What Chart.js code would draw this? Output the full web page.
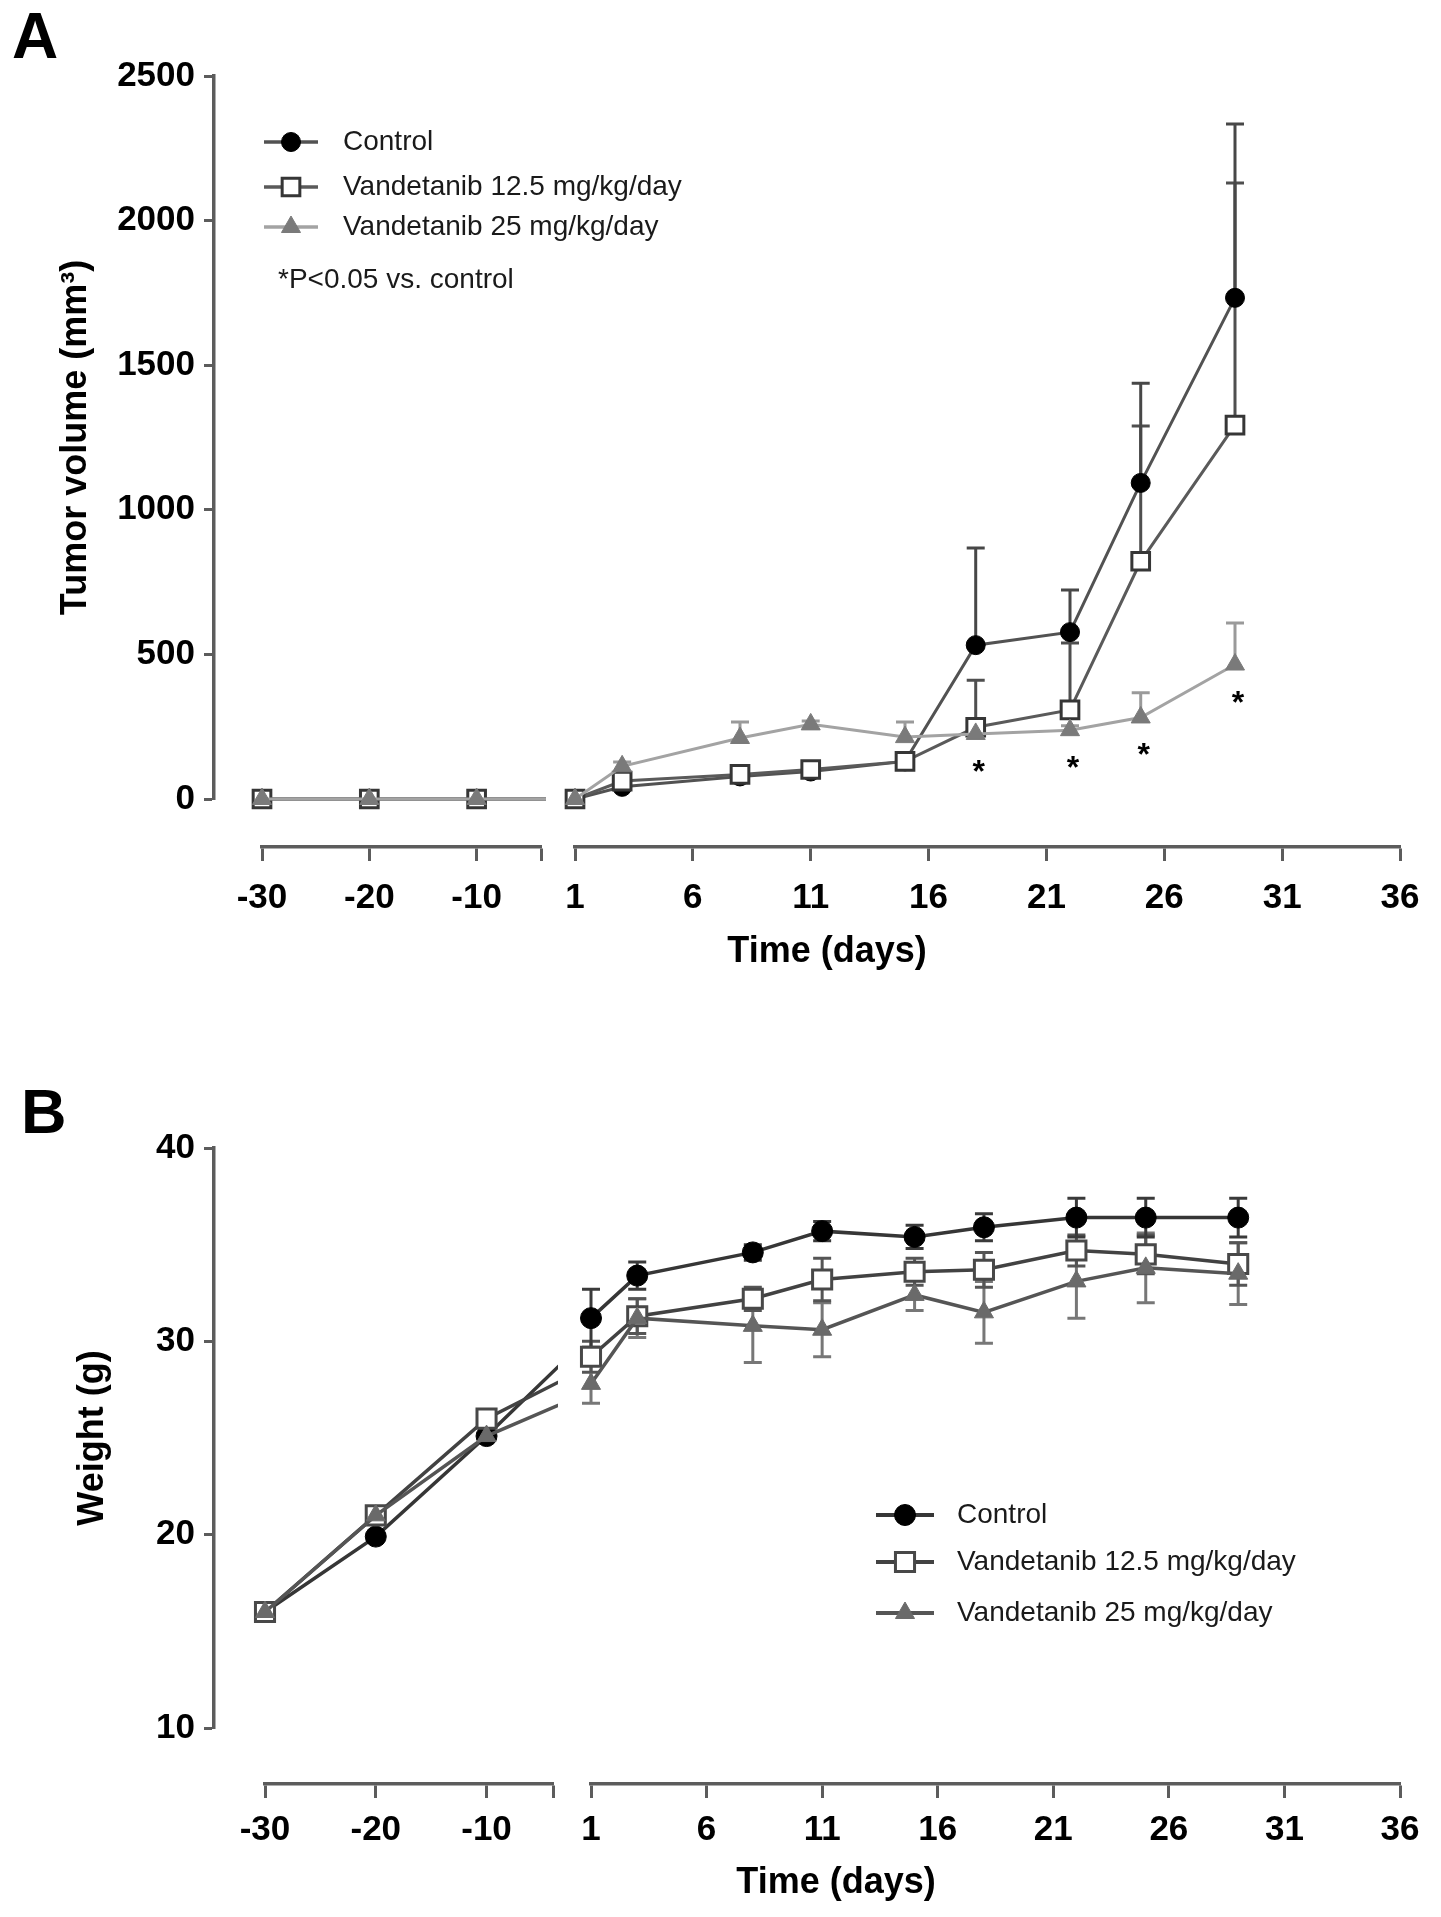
<!DOCTYPE html>
<html>
<head>
<meta charset="utf-8">
<script src="https://cdn.jsdelivr.net/npm/chart.js@4.4.1/dist/chart.umd.min.js"></script>
<style>
html, body { margin: 0; padding: 0; background: #ffffff; overflow: hidden; }
#wrap { position: relative; width: 1441px; height: 1917px; background: #fff; }
.panel { position: absolute; left: 0; width: 1441px; }
#pa { top: 0; height: 990px; }
#pb { top: 990px; height: 927px; }
</style>
</head>
<body>
<div id="wrap">
  <div class="panel" id="pa"><canvas id="chartA"></canvas></div>
  <div class="panel" id="pb"><canvas id="chartB"></canvas></div>
</div>
<script>
// ---------------- data ----------------
const preDays = [-30, -20, -10];
const postDays = [1, 3, 8, 11, 15, 18, 22, 25, 29];
const days = preDays.concat(postDays);
const seriesNames = ['Control', 'Vandetanib 12.5 mg/kg/day', 'Vandetanib 25 mg/kg/day'];

const leftTickLabels = [-30, -20, -10];
const rightTickLabels = [1, 6, 11, 16, 21, 26, 31, 36];
const leftAxisRange = [-30, -4];
const rightAxisRange = [1, 36];
const xTitle = 'Time (days)';

// Panel A: tumor volume (mm3), mean and upper error
const volTicks = [0, 500, 1000, 1500, 2000, 2500];
const volTitle = 'Tumor volume (mm\u00B3)';
const volControl    = [0, 0, 0, 0, 42, 78, 95, 130, 532, 577, 1093, 1733];
const volLow        = [0, 0, 0, 0, 62, 85, 102, 130, 248, 308, 822, 1293];
const volHigh       = [0, 0, 0, 0, 113, 211, 258, 214, 225, 238, 282, 465];
const volControlErr = [0, 0, 0, 0, 8, 12, 15, 20, 336, 146, 345, 601];
const volLowErr     = [0, 0, 0, 0, 10, 18, 15, 22, 163, 231, 468, 837];
const volHighErr    = [0, 0, 0, 0, 15, 55, 12, 52, 15, 15, 85, 144];
const sigDays = [18, 22, 25, 29];
const sigNote = '*P<0.05 vs. control';

// Panel B: body weight (g), mean and +/- error
const wtTicks = [10, 20, 30, 40];
const wtTitle = 'Weight (g)';
const wtControl    = [16.0, 19.9, 25.1, 31.2, 33.4, 34.6, 35.7, 35.4, 35.9, 36.4, 36.4, 36.4];
const wtLow        = [16.0, 21.0, 26.0, 29.2, 31.3, 32.2, 33.2, 33.6, 33.7, 34.7, 34.5, 34.0];
const wtHigh       = [16.0, 21.0, 25.1, 27.8, 31.2, 30.8, 30.6, 32.4, 31.5, 33.1, 33.8, 33.5];
const wtControlErr = [0, 0, 0, 1.5, 0.7, 0.4, 0.5, 0.6, 0.7, 1.0, 1.0, 1.0];
const wtLowErr     = [0, 0, 0, 0.8, 0.9, 0.6, 1.1, 0.7, 0.9, 0.8, 1.0, 1.1];
const wtHighErr    = [0, 0, 0, 1.0, 1.0, 1.9, 1.4, 0.8, 1.6, 1.9, 1.8, 1.6];

// ---------------- styling ----------------
const FONT = '"Liberation Sans", Arial, Helvetica, sans-serif';
const AXIS = '#5c5c5c';

function drawMarker(ctx, st, x, y) {
  if (window.Chart && Chart.helpers && Chart.helpers.drawPoint) {
    Chart.helpers.drawPoint(ctx, {pointStyle: st.pointStyle, radius: st.radius, borderWidth: st.bw, rotation: 0}, x, y);
    return;
  }
  ctx.beginPath();
  if (st.pointStyle === 'circle') ctx.arc(x, y, st.radius, 0, Math.PI * 2);
  else if (st.pointStyle === 'rect') { const s = st.radius * Math.SQRT1_2; ctx.rect(x - s, y - s, 2 * s, 2 * s); }
  else { const r = st.radius; ctx.moveTo(x, y - r); ctx.lineTo(x + r * 0.866, y + r / 2); ctx.lineTo(x - r * 0.866, y + r / 2); ctx.closePath(); }
  ctx.fill(); if (st.bw > 0) ctx.stroke();
}

function makeDeco(P) {
  return {
    id: 'deco' + P.id,
    beforeDatasetDraw(chart, args) {
      if (args.meta.xAxisID !== 'xL') return;
      const xs = chart.scales.xL, ca = chart.chartArea, ctx = chart.ctx;
      ctx.save();
      ctx.beginPath();
      ctx.rect(0, ca.top - 60, xs.right + 5, ca.bottom - ca.top + 120);
      ctx.clip();
    },
    afterDatasetDraw(chart, args) {
      if (args.meta.xAxisID === 'xL') chart.ctx.restore();
    },
    beforeDatasetsDraw(chart) {
      const ctx = chart.ctx, ys = chart.scales.y;
      chart.data.datasets.forEach((ds, di) => {
        const meta = chart.getDatasetMeta(di);
        const xs = chart.scales[meta.xAxisID];
        ctx.save();
        ctx.strokeStyle = ds.errorColor;
        ctx.lineWidth = P.errWidth;
        ds.data.forEach((p, i) => {
          const e = ds.errors[i];
          if (!e || p.x < xs.min || p.x > xs.max) return;
          const el = meta.data[i];
          if (!el) return;
          const x = el.x;
          const yt = ys.getPixelForValue(p.y + e);
          const yb = P.errorMode === 'both' ? ys.getPixelForValue(p.y - e) : el.y;
          ctx.beginPath();
          ctx.moveTo(x, yb); ctx.lineTo(x, yt);
          ctx.moveTo(x - P.cap, yt); ctx.lineTo(x + P.cap, yt);
          if (P.errorMode === 'both') { ctx.moveTo(x - P.cap, yb); ctx.lineTo(x + P.cap, yb); }
          ctx.stroke();
        });
        ctx.restore();
      });
    },
    afterDatasetsDraw(chart) {
      if (!P.sig) return;
      const ctx = chart.ctx, ys = chart.scales.y, xs = chart.scales.xR;
      ctx.save();
      ctx.font = 'bold ' + P.sig.size + 'px ' + FONT;
      ctx.fillStyle = '#000';
      ctx.textAlign = 'center';
      ctx.textBaseline = 'alphabetic';
      P.sig.days.forEach(d => {
        const i = days.indexOf(d);
        ctx.fillText('*', xs.getPixelForValue(d) + P.sig.dx, ys.getPixelForValue(P.sig.ref[i]) + P.sig.dy);
      });
      ctx.restore();
    },
    afterDraw(chart) {
      const ctx = chart.ctx, ca = chart.chartArea, L = P.legend;
      ctx.save();
      seriesNames.forEach((name, i) => {
        const st = P.styles[i];
        const y = ca.top + L.rows[i];
        ctx.strokeStyle = st.line;
        ctx.lineWidth = P.lineWidth + 0.5;
        ctx.beginPath();
        ctx.moveTo(ca.left + L.x0, y); ctx.lineTo(ca.left + L.x1, y);
        ctx.stroke();
        ctx.fillStyle = st.fill; ctx.strokeStyle = st.border; ctx.lineWidth = st.bw;
        drawMarker(ctx, st, ca.left + L.mx, y);
        ctx.fillStyle = '#1a1a1a';
        ctx.font = L.size + 'px ' + FONT;
        ctx.textAlign = 'left';
        ctx.textBaseline = 'middle';
        ctx.fillText(name, ca.left + L.tx, y);
      });
      if (P.note) {
        ctx.fillStyle = '#1a1a1a';
        ctx.font = L.size + 'px ' + FONT;
        ctx.textAlign = 'left';
        ctx.textBaseline = 'middle';
        ctx.fillText(P.note.text, ca.left + P.note.x, ca.top + P.note.y);
      }
      ctx.fillStyle = '#000';
      ctx.font = 'bold ' + P.label.size + 'px ' + FONT;
      ctx.textAlign = 'left';
      ctx.textBaseline = 'alphabetic';
      ctx.fillText(P.label.text, P.label.x, P.label.y);
      ctx.restore();
    }
  };
}

function makeChart(canvasId, P) {
  const G = P.geo;
  const datasets = [];
  P.drawOrder.forEach(si => {
    const st = P.styles[si];
    [['xL', d => d <= rightAxisRange[0]], ['xR', d => d >= rightAxisRange[0]]].forEach(([axis, keep]) => {
      const idx = days.map((d, i) => i).filter(i => keep(days[i]));
      datasets.push({
        label: seriesNames[si],
        xAxisID: axis,
        yAxisID: 'y',
        data: idx.map(i => ({x: days[i], y: P.values[si][i]})),
        errors: idx.map(i => P.errors[si][i]),
        errorColor: st.err,
        borderColor: st.line,
        borderWidth: P.lineWidth,
        pointStyle: st.pointStyle,
        pointRadius: c => (axis === 'xL' && c.raw && c.raw.x > leftAxisRange[1]) ? 0 : st.radius,
        pointHoverRadius: st.radius,
        pointBackgroundColor: st.fill,
        pointBorderColor: st.border,
        pointBorderWidth: st.bw,
        tension: 0,
        fill: false,
        clip: axis === 'xL' ? {left: 25, right: 5, top: 40, bottom: 40} : {left: 25, right: 25, top: 40, bottom: 40}
      });
    });
  });

  const tickFont = {family: FONT, size: 35, weight: 'bold'};
  const titleFont = {family: FONT, size: 36, weight: 'bold'};
  const spacer = (stack, w, weight, h) => ({
    type: 'linear', position: 'bottom', stack: stack, stackWeight: w, weight: weight, min: 0, max: 1,
    grid: {display: false}, border: {display: false}, ticks: {display: false}, title: {display: false},
    afterFit: s => { s.height = h; }
  });
  const xAxis = (range, tickVals, labels, w) => ({
    type: 'linear', position: 'bottom', stack: 'x', stackWeight: w, weight: 1,
    min: range[0], max: range[1],
    afterBuildTicks: s => { s.ticks = tickVals.map(v => ({value: v})); },
    afterFit: s => { s.height = G.xH; },
    border: {display: true, color: AXIS, width: 3.5},
    grid: {display: true, drawOnChartArea: false, drawTicks: true, tickLength: 14, tickWidth: 3, color: AXIS, tickColor: AXIS},
    ticks: {font: tickFont, color: '#000', padding: G.xTickPad, maxRotation: 0, minRotation: 0, autoSkip: false,
            callback: v => labels.includes(v) ? String(v) : ''}
  });

  return new Chart(document.getElementById(canvasId), {
    type: 'line',
    data: {datasets: datasets},
    plugins: [makeDeco(P)],
    options: {
      responsive: true,
      maintainAspectRatio: false,
      animation: false,
      events: [],
      layout: {padding: {top: G.padTop, right: 41, bottom: 0, left: 0}},
      plugins: {legend: {display: false}, tooltip: {enabled: false}},
      scales: {
        y: {
          type: 'linear', position: 'left', min: P.yTicks[0], max: P.yTicks[P.yTicks.length - 1],
          afterBuildTicks: s => { s.ticks = P.yTicks.map(v => ({value: v})); },
          afterFit: s => { s.width = G.yWidth; },
          border: {display: true, color: AXIS, width: 3.5},
          grid: {display: true, drawOnChartArea: false, drawTicks: true, tickLength: 10, tickWidth: 3, color: AXIS, tickColor: AXIS},
          ticks: {font: tickFont, color: '#000', padding: 9, callback: v => String(v)},
          title: {display: true, text: P.yTitle, font: titleFont, color: '#000', padding: {top: G.yTitlePad, bottom: 0}}
        },
        gapRow: {
          type: 'linear', position: 'bottom', weight: 0, min: 0, max: 1,
          grid: {display: false}, border: {display: false}, ticks: {display: false},
          afterFit: s => { s.height = G.gap; }
        },
        xSL: spacer('x', G.wSL, 1, G.xH),
        xL: xAxis(leftAxisRange, leftTickLabels.concat([leftAxisRange[1]]), leftTickLabels, G.wL),
        xG: spacer('x', G.wG, 1, G.xH),
        xR: xAxis(rightAxisRange, rightTickLabels, rightTickLabels, G.wR),
        tS: spacer('t', G.wTS, 2, G.tH),
        tX: {
          type: 'linear', position: 'bottom', stack: 't', stackWeight: G.wTX, weight: 2, min: 0, max: 1,
          grid: {display: false}, border: {display: false}, ticks: {display: false},
          title: {display: true, text: xTitle, font: titleFont, color: '#000', padding: {top: 0, bottom: G.tPad}},
          afterFit: s => { s.height = G.tH; }
        }
      }
    }
  });
}

// ---------------- panel A ----------------
makeChart('chartA', {
  id: 'A',
  values: [volControl, volLow, volHigh],
  errors: [volControlErr, volLowErr, volHighErr],
  errorMode: 'up',
  yTicks: volTicks,
  yTitle: volTitle,
  drawOrder: [2, 1, 0],
  lineWidth: 3,
  errWidth: 3,
  cap: 9,
  styles: [
    {line: '#525252', fill: '#000000', border: '#000000', bw: 1, pointStyle: 'circle', radius: 9.5, err: '#474747'},
    {line: '#5a5a5a', fill: '#ffffff', border: '#363636', bw: 3, pointStyle: 'rect', radius: 12.5, err: '#4f4f4f'},
    {line: '#a3a3a3', fill: '#7a7a7a', border: '#7a7a7a', bw: 1, pointStyle: 'triangle', radius: 11, err: '#9a9a9a'}
  ],
  sig: {days: sigDays, ref: volHigh, size: 32, dx: 3, dy: 48},
  note: {text: sigNote, x: 64, y: 204},
  legend: {size: 28, x0: 50, x1: 104, mx: 77, tx: 129, rows: [66, 111, 151]},
  label: {text: 'A', size: 64, x: 12, y: 58},
  geo: {yWidth: 214, yTitlePad: 54, gap: 48, xH: 75, xTickPad: 16, tH: 68, tPad: 16,
        wSL: 48, wL: 279, wG: 34, wR: 825, wTS: 40, wTX: 1146, padTop: 76}
});

// ---------------- panel B ----------------
makeChart('chartB', {
  id: 'B',
  values: [wtControl, wtLow, wtHigh],
  errors: [wtControlErr, wtLowErr, wtHighErr],
  errorMode: 'both',
  yTicks: wtTicks,
  yTitle: wtTitle,
  drawOrder: [2, 1, 0],
  lineWidth: 3.5,
  errWidth: 3,
  cap: 9,
  styles: [
    {line: '#363636', fill: '#000000', border: '#000000', bw: 1, pointStyle: 'circle', radius: 10.5, err: '#3a3a3a'},
    {line: '#424242', fill: '#ffffff', border: '#484848', bw: 3, pointStyle: 'rect', radius: 13.5, err: '#555555'},
    {line: '#555555', fill: '#6a6a6a', border: '#6a6a6a', bw: 1, pointStyle: 'triangle', radius: 11, err: '#777777'}
  ],
  sig: null,
  note: null,
  legend: {size: 28, x0: 662, x1: 720, mx: 691, tx: 743, rows: [367, 414, 465]},
  label: {text: 'B', size: 63, x: 21, y: 143},
  geo: {yWidth: 214, yTitlePad: 71, gap: 56, xH: 70, xTickPad: 11, tH: 63, tPad: 12,
        wSL: 51, wL: 288, wG: 38, wR: 809, wTS: 58, wTX: 1128, padTop: 158}
});
</script>
</body>
</html>
